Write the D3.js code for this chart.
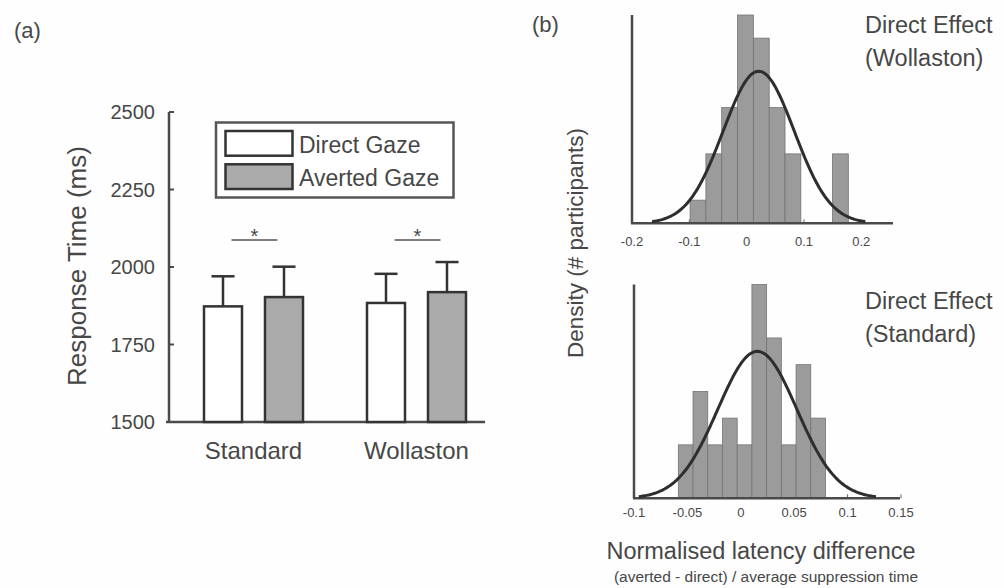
<!DOCTYPE html>
<html lang="en">
<head>
  <meta charset="utf-8">
  <script src="https://d3js.org/d3.v7.min.js"></script>
  <style>
    body { margin: 0; background: #fff; }
    text { font-family: "Liberation Sans", Arial, Helvetica, sans-serif; fill: #474747; }
  </style>
</head>
<body>
<script>

// ---- panel (a) data ----
var categories = ["Standard", "Wollaston"];
var series = ["Direct Gaze", "Averted Gaze"];
var meanRT = [[1873, 1903], [1884, 1919]];      // [category][series]
var errTop = [[1970, 2001], [1978, 2016]];      // upper error bar
var rtTicks = [1500, 1750, 2000, 2250, 2500];

// ---- panel (b) data ----
var wollCounts = [1, 3, 5, 9, 8, 5, 3, 0, 0, 3];
var wollBinStart = -0.0987, wollBinWidth = 0.0276;
var wollFit = { mean: 0.021, sd: 0.062 };
var wollTicks = [-0.2, -0.1, 0, 0.1, 0.2];

var stdCounts = [2, 4, 2, 3, 2, 8, 6, 2, 5, 3];
var stdBinStart = -0.0585, stdBinWidth = 0.01378;
var stdFit = { mean: 0.0155, sd: 0.037 };
var stdTicks = [-0.1, -0.05, 0, 0.05, 0.1, 0.15];

var width = 1004, height = 588;
var axisCol = "#4a4a4a";

var svg = d3.select("body").append("svg")
    .attr("width", width)
    .attr("height", height);

svg.append("rect")
    .attr("width", width)
    .attr("height", height)
    .attr("fill", "#fefefe");

// ================= panel (a) =================
var y = d3.scaleLinear().domain([1500, 2500]).range([422, 112]);
var x0 = d3.scaleBand().domain(categories).range([172, 498]);
var x1 = d3.scaleBand().domain(series).range([-49.5, 49.5]).paddingInner(0.377);
var fills = ["#ffffff", "#aaaaaa"];

var ga = svg.append("g");

ga.append("text").attr("x", 14).attr("y", 38).attr("font-size", 22).text("(a)");

// axes
ga.append("line").attr("x1", 169).attr("x2", 169).attr("y1", y(2500)).attr("y2", y(1500))
    .attr("stroke", axisCol).attr("stroke-width", 2.5);
ga.append("line").attr("x1", 166).attr("x2", 485).attr("y1", y(1500)).attr("y2", y(1500))
    .attr("stroke", axisCol).attr("stroke-width", 2.5);

ga.selectAll(".ytick").data(rtTicks).enter().append("line")
    .attr("x1", 169).attr("x2", 174)
    .attr("y1", function(d) { return y(d); }).attr("y2", function(d) { return y(d); })
    .attr("stroke", axisCol).attr("stroke-width", 2);

ga.selectAll(".ylab").data(rtTicks).enter().append("text")
    .attr("x", 155)
    .attr("y", function(d) { return y(d) + 7; })
    .attr("text-anchor", "end")
    .attr("font-size", 20)
    .text(function(d) { return d; });

ga.selectAll(".xlab").data(categories).enter().append("text")
    .attr("x", function(d) { return x0(d) + x0.bandwidth() / 2; })
    .attr("y", 459)
    .attr("text-anchor", "middle")
    .attr("font-size", 24)
    .text(function(d) { return d; });

ga.append("text")
    .attr("transform", "translate(86,266) rotate(-90)")
    .attr("text-anchor", "middle")
    .attr("font-size", 26)
    .text("Response Time (ms)");

// bars + error bars
categories.forEach(function(c, ci) {
  var cx = x0(c) + x0.bandwidth() / 2;
  var grp = ga.append("g").attr("transform", "translate(" + cx + ",0)");

  var rows = series.map(function(s, si) {
    return { s: s, si: si, v: meanRT[ci][si], e: errTop[ci][si] };
  });

  grp.selectAll(".err").data(rows).enter().append("line")
      .attr("x1", function(d) { return x1(d.s) + x1.bandwidth() / 2; })
      .attr("x2", function(d) { return x1(d.s) + x1.bandwidth() / 2; })
      .attr("y1", function(d) { return y(d.v); })
      .attr("y2", function(d) { return y(d.e); })
      .attr("stroke", "#333").attr("stroke-width", 2.5);

  grp.selectAll(".cap").data(rows).enter().append("line")
      .attr("x1", function(d) { return x1(d.s) + x1.bandwidth() / 2 - 11.5; })
      .attr("x2", function(d) { return x1(d.s) + x1.bandwidth() / 2 + 11.5; })
      .attr("y1", function(d) { return y(d.e); })
      .attr("y2", function(d) { return y(d.e); })
      .attr("stroke", "#333").attr("stroke-width", 2.5);

  grp.selectAll(".bar").data(rows).enter().append("rect")
      .attr("x", function(d) { return x1(d.s); })
      .attr("width", x1.bandwidth())
      .attr("y", function(d) { return y(d.v); })
      .attr("height", function(d) { return y(1500) - y(d.v); })
      .attr("fill", function(d) { return fills[d.si]; })
      .attr("stroke", "#333").attr("stroke-width", 2.5);

  // significance marker
  grp.append("line").attr("x1", -22).attr("x2", 24).attr("y1", 240).attr("y2", 240)
      .attr("stroke", "#555").attr("stroke-width", 1.5);
  grp.append("text").attr("x", 1).attr("y", 243).attr("text-anchor", "middle")
      .attr("font-size", 20).text("*");
});

// legend
var leg = ga.append("g");
leg.append("rect").attr("x", 216).attr("y", 122.5).attr("width", 237.5).attr("height", 75)
    .attr("fill", "#fff").attr("stroke", "#555").attr("stroke-width", 2.5);
leg.selectAll(".sw").data(series).enter().append("rect")
    .attr("x", 225.5)
    .attr("y", function(d, i) { return 131 + i * 33.3; })
    .attr("width", 67).attr("height", 24.7)
    .attr("fill", function(d, i) { return fills[i]; })
    .attr("stroke", "#333").attr("stroke-width", 2.5);
leg.selectAll(".lt").data(series).enter().append("text")
    .attr("x", 299)
    .attr("y", function(d, i) { return 153 + i * 33.3; })
    .attr("font-size", 23)
    .text(function(d) { return d; });

// ================= panel (b) =================
var gb = svg.append("g");

gb.append("text").attr("x", 532).attr("y", 32).attr("font-size", 22).text("(b)");

function histogram(opts) {
  var xs = d3.scaleLinear().domain(opts.xDomain).range(opts.xRange);
  var ys = d3.scaleLinear().domain([0, opts.yMax]).range([opts.base, opts.top]);
  var g = gb.append("g");

  // inward ticks (under bars)
  g.selectAll(".tk").data(opts.ticks).enter().append("line")
      .attr("x1", function(d) { return xs(d); }).attr("x2", function(d) { return xs(d); })
      .attr("y1", opts.base).attr("y2", opts.base - 4)
      .attr("stroke", "#666").attr("stroke-width", 1);

  var bins = opts.counts.map(function(c, i) {
    return { x0: opts.binStart + i * opts.binWidth, x1: opts.binStart + (i + 1) * opts.binWidth, n: c };
  }).filter(function(b) { return b.n > 0; });

  g.selectAll(".hb").data(bins).enter().append("rect")
      .attr("x", function(d) { return xs(d.x0); })
      .attr("width", function(d) { return xs(d.x1) - xs(d.x0); })
      .attr("y", function(d) { return ys(d.n); })
      .attr("height", function(d) { return ys(0) - ys(d.n); })
      .attr("fill", "#9b9b9b")
      .attr("stroke", "#747474").attr("stroke-width", 0.8);

  // axes
  g.append("line").attr("x1", opts.xRange[0]).attr("x2", opts.xRange[0])
      .attr("y1", opts.top).attr("y2", opts.base)
      .attr("stroke", axisCol).attr("stroke-width", 2.5);
  g.append("line").attr("x1", opts.xRange[0] - 1).attr("x2", opts.axisEnd)
      .attr("y1", opts.base).attr("y2", opts.base)
      .attr("stroke", axisCol).attr("stroke-width", 2.5);

  g.selectAll(".tl").data(opts.ticks).enter().append("text")
      .attr("x", function(d) { return xs(d); })
      .attr("y", opts.base + opts.labelGap)
      .attr("text-anchor", "middle")
      .attr("font-size", 13)
      .text(function(d) { return d; });

  // fitted normal (scaled to counts)
  var n = d3.sum(opts.counts), f = opts.fit;
  var scaleK = n * opts.binWidth / (f.sd * Math.sqrt(2 * Math.PI));
  var pts = d3.range(-3, 3.001, 0.05).map(function(z) {
    return [f.mean + z * f.sd, scaleK * Math.exp(-0.5 * z * z)];
  });
  g.append("path")
      .attr("d", d3.line()
        .x(function(d) { return xs(d[0]); })
        .y(function(d) { return ys(d[1]); })(pts))
      .attr("fill", "none")
      .attr("stroke", "#2e2e2e").attr("stroke-width", 3);

  g.selectAll(".ttl").data(opts.title).enter().append("text")
      .attr("x", 865)
      .attr("y", function(d, i) { return opts.titleY + i * 32.5; })
      .attr("font-size", 23.5)
      .text(function(d) { return d; });
}

histogram({
  counts: wollCounts, binStart: wollBinStart, binWidth: wollBinWidth, fit: wollFit,
  ticks: wollTicks, xDomain: [-0.2, 0.25], xRange: [632, 890], axisEnd: 893,
  yMax: 9, base: 223.3, top: 15, labelGap: 22.5,
  title: ["Direct Effect", "(Wollaston)"], titleY: 33
});

histogram({
  counts: stdCounts, binStart: stdBinStart, binWidth: stdBinWidth, fit: stdFit,
  ticks: stdTicks, xDomain: [-0.1, 0.15], xRange: [634, 901], axisEnd: 900,
  yMax: 8, base: 498.3, top: 284.5, labelGap: 18.5,
  title: ["Direct Effect", "(Standard)"], titleY: 309
});

gb.append("text")
    .attr("transform", "translate(583,243) rotate(-90)")
    .attr("text-anchor", "middle")
    .attr("font-size", 22.5)
    .text("Density (# participants)");

gb.append("text")
    .attr("x", 761).attr("y", 559)
    .attr("text-anchor", "middle")
    .attr("font-size", 23.5)
    .text("Normalised latency difference");

gb.append("text")
    .attr("x", 766).attr("y", 582)
    .attr("text-anchor", "middle")
    .attr("font-size", 15.5)
    .text("(averted - direct) / average suppression time");

</script>
</body>
</html>
